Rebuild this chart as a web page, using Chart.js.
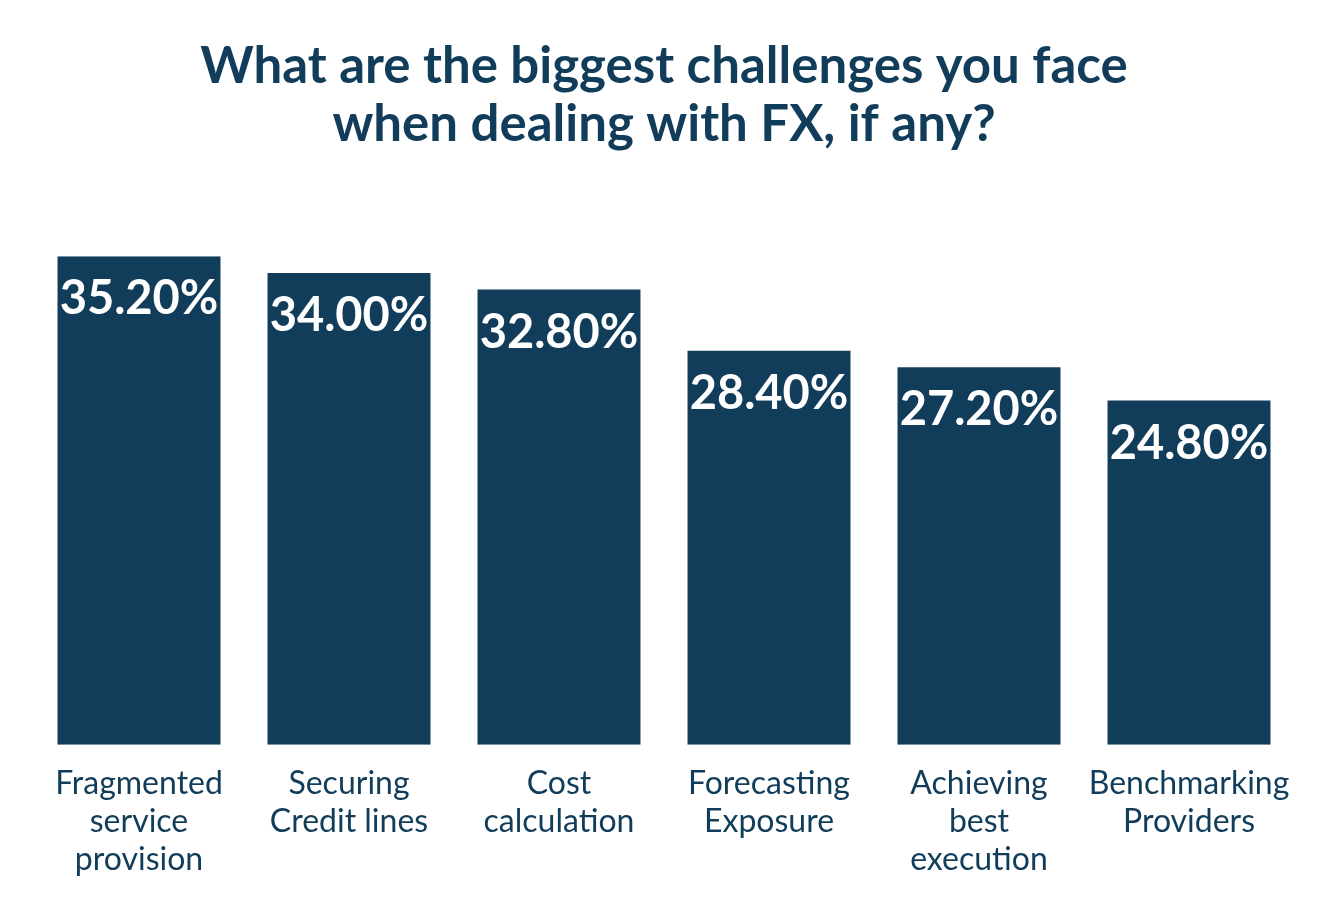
<!DOCTYPE html>
<html lang="en">
<head>
    <meta charset="UTF-8">
    <title>FX Challenges</title>
    <script src="https://cdn.jsdelivr.net/npm/chart.js"></script>
    <style>
        * { margin: 0; padding: 0; box-sizing: border-box; }
        body { background: white; width: 1328px; height: 900px; overflow: hidden; }
        .chart-container { width: 1328px; height: 900px; }
    </style>
</head>
<body>
    <div class="chart-container">
        <canvas id="fxChart"></canvas>
    </div>

    <script>
        const categories = [
            ["Fragmented", "service", "provision"],
            ["Securing", "Credit lines"],
            ["Cost", "calculation"],
            ["Forecasting", "Exposure"],
            ["Achieving", "best", "execution"],
            ["Benchmarking", "Providers"]
        ];
        const values = [35.2, 34.0, 32.8, 28.4, 27.2, 24.8];
        const titleLines = ["What are the biggest challenges you face", "when dealing with FX, if any?"];

        const navy = "#113d5a";
        const fontFamily = "Lato, 'Open Sans', sans-serif";

        // draws the percentage labels inside the top of each bar
        const valueLabels = {
            id: "valueLabels",
            afterDatasetsDraw(chart) {
                const ctx = chart.ctx;
                const meta = chart.getDatasetMeta(0);
                ctx.save();
                ctx.fillStyle = "white";
                ctx.font = "bold 47px " + fontFamily;
                ctx.textAlign = "center";
                ctx.textBaseline = "middle";
                meta.data.forEach((bar, i) => {
                    ctx.fillText(values[i].toFixed(2) + "%", bar.x, bar.y + 43);
                });
                ctx.restore();
            }
        };

        const ctx = document.getElementById("fxChart").getContext("2d");
        new Chart(ctx, {
            type: "bar",
            data: {
                labels: categories,
                datasets: [{
                    data: values,
                    backgroundColor: navy,
                    borderWidth: 0,
                    barPercentage: 0.776,
                    categoryPercentage: 1
                }]
            },
            options: {
                responsive: true,
                maintainAspectRatio: false,
                animation: false,
                layout: {
                    padding: { left: 34, right: 34, top: 37, bottom: 9 }
                },
                plugins: {
                    legend: { display: false },
                    tooltip: { enabled: false },
                    title: {
                        display: true,
                        text: titleLines,
                        color: navy,
                        font: { family: fontFamily, size: 51, weight: "bold", lineHeight: 1.14 },
                        padding: { top: 0, bottom: 103 }
                    }
                },
                scales: {
                    x: {
                        grid: { display: false },
                        border: { display: false },
                        ticks: {
                            color: navy,
                            font: { family: fontFamily, size: 32, lineHeight: 1.19 },
                            maxRotation: 0,
                            autoSkip: false,
                            padding: 12
                        }
                    },
                    y: {
                        display: false,
                        min: 0,
                        max: 35.2
                    }
                }
            },
            plugins: [valueLabels]
        });
    </script>
</body>
</html>
